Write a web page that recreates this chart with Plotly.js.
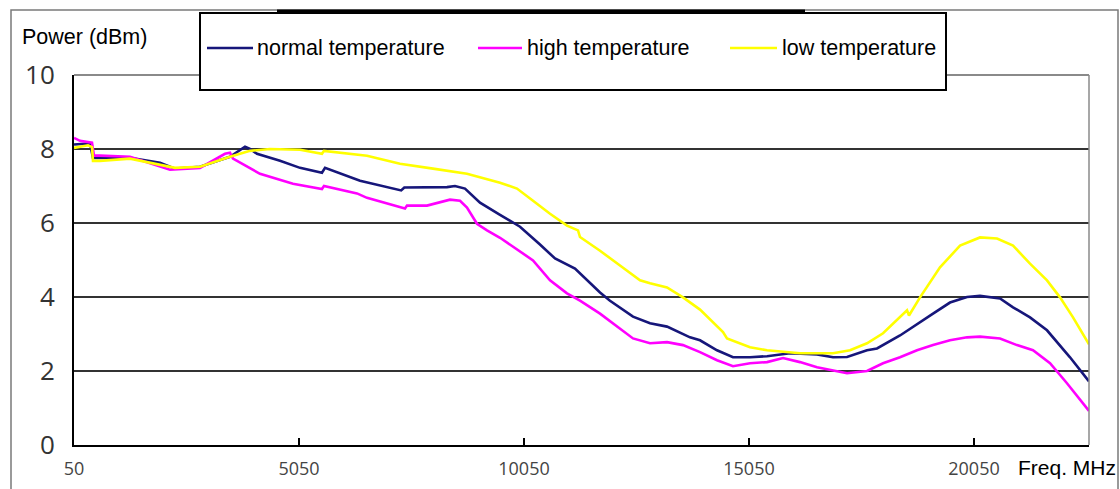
<!DOCTYPE html>
<html>
<head>
<meta charset="utf-8">
<script src="https://cdn.plot.ly/plotly-3.0.1.min.js"></script>
<style>html,body{margin:0;padding:0;background:#fff;}#chart{width:1120px;height:489px;}</style>
</head>
<body>
<div id="chart"></div>
<script>
// ---- data ----
const seriesNames = ["normal temperature", "high temperature", "low temperature"];
const xTickVals = [50, 5050, 10050, 15050, 20050];
const yTickVals = [0, 2, 4, 6, 8, 10];

const freqNormal = [50, 406, 472, 628, 1294, 1961, 2294, 2850, 3516, 3850, 3961, 4117, 4628, 5072, 5560, 5628, 6406, 7320, 7390, 8339, 8516, 8739, 9072, 9517, 9961, 10405, 10739, 11183, 11516, 11739, 11961, 12472, 12850, 13228, 13739, 13961, 14339, 14694, 15072, 15450, 15961, 16561, 16917, 17228, 17672, 17894, 18405, 18694, 19139, 19516, 19894, 20183, 20628, 20917, 21294, 21672, 22183, 22605];
const powerNormal = [8.12, 8.15, 7.76, 7.76, 7.76, 7.63, 7.47, 7.52, 7.79, 8.06, 8.0, 7.87, 7.68, 7.49, 7.36, 7.49, 7.14, 6.88, 6.96, 6.97, 7.0, 6.93, 6.55, 6.22, 5.9, 5.42, 5.04, 4.77, 4.37, 4.12, 3.9, 3.47, 3.29, 3.2, 2.91, 2.83, 2.56, 2.37, 2.37, 2.4, 2.48, 2.45, 2.37, 2.38, 2.56, 2.61, 2.96, 3.2, 3.55, 3.85, 4.0, 4.03, 3.96, 3.72, 3.45, 3.1, 2.37, 1.72];

const freqHigh = [50, 183, 450, 494, 628, 1294, 2183, 2850, 3405, 3516, 3583, 4183, 4916, 5560, 5605, 6339, 6561, 7405, 7450, 7894, 8405, 8628, 8783, 9005, 9228, 9517, 10250, 10628, 11005, 11294, 11739, 12472, 12850, 13228, 13583, 13961, 14339, 14694, 15072, 15450, 15806, 16183, 16561, 16917, 17228, 17672, 18028, 18405, 18783, 19139, 19516, 19894, 20183, 20628, 21005, 21361, 21739, 22116, 22472, 22605];
const powerHigh = [8.3, 8.22, 8.17, 7.82, 7.82, 7.79, 7.44, 7.49, 7.87, 7.9, 7.74, 7.33, 7.06, 6.92, 7.0, 6.8, 6.68, 6.39, 6.47, 6.47, 6.63, 6.6, 6.42, 5.98, 5.8, 5.6, 4.99, 4.45, 4.1, 3.9, 3.55, 2.88, 2.75, 2.78, 2.7, 2.51, 2.29, 2.13, 2.21, 2.24, 2.35, 2.24, 2.1, 2.02, 1.94, 2.0, 2.21, 2.37, 2.56, 2.7, 2.83, 2.91, 2.93, 2.88, 2.7, 2.56, 2.21, 1.67, 1.13, 0.92];

const freqLow = [50, 361, 450, 472, 628, 1294, 2294, 2850, 3516, 3961, 4405, 5072, 5560, 5605, 6561, 7294, 8027, 8783, 9517, 9894, 10250, 10628, 11005, 11250, 11294, 11739, 12183, 12628, 12850, 13228, 13583, 13961, 14472, 14561, 15072, 15450, 16183, 16917, 17295, 17672, 18028, 18405, 18561, 18605, 18850, 19294, 19739, 20183, 20561, 20917, 21294, 21672, 21961, 22250, 22605];
const powerLow = [8.03, 8.1, 8.05, 7.68, 7.68, 7.74, 7.49, 7.52, 7.79, 7.95, 8.0, 7.98, 7.87, 7.95, 7.82, 7.6, 7.47, 7.33, 7.09, 6.93, 6.6, 6.25, 5.93, 5.8, 5.62, 5.25, 4.85, 4.45, 4.37, 4.26, 3.99, 3.66, 3.05, 2.88, 2.64, 2.56, 2.48, 2.48, 2.56, 2.75, 3.02, 3.45, 3.64, 3.5, 3.99, 4.8, 5.39, 5.61, 5.58, 5.39, 4.9, 4.45, 3.99, 3.45, 2.72];

const seriesColors = ["#16167a", "#ff00ff", "#ffff00"];

// ---- chart ----
const traces = [
  {x: freqNormal, y: powerNormal, name: seriesNames[0], type: "scatter", mode: "lines", line: {color: seriesColors[0], width: 2.6}, showlegend: false},
  {x: freqHigh, y: powerHigh, name: seriesNames[1], type: "scatter", mode: "lines", line: {color: seriesColors[1], width: 2.6}, showlegend: false},
  {x: freqLow, y: powerLow, name: seriesNames[2], type: "scatter", mode: "lines", line: {color: seriesColors[2], width: 2.6}, showlegend: false}
];

const L = 74, R = 1089, T = 75, B = 445;
const px = v => (v - L) / (R - L);
const py = v => (B - v) / (B - T);

const legendSamples = [[207, 253, 255], [478, 522, 525], [730, 777, 780]];
const shapes = [
  {type: "rect", xref: "paper", yref: "paper", x0: px(11), x1: px(1118), y0: py(495), y1: py(10), line: {color: "#7a7a7a", width: 1.5}, layer: "below"},
  {type: "line", xref: "paper", yref: "paper", x0: 0, x1: 1, y0: 1, y1: 1, line: {color: "#8a8a8a", width: 2}, layer: "above"},
  {type: "line", xref: "paper", yref: "paper", x0: 1, x1: 1, y0: 0, y1: 1, line: {color: "#8a8a8a", width: 1.5}, layer: "above"},
  {type: "rect", xref: "paper", yref: "paper", x0: px(200), x1: px(946), y0: py(90), y1: py(13), fillcolor: "#ffffff", line: {color: "#000000", width: 2}, layer: "above"},
  {type: "line", xref: "paper", yref: "paper", x0: px(277), x1: px(805), y0: py(11), y1: py(11), line: {color: "#000000", width: 3}, layer: "above"}
];
legendSamples.forEach((s, i) => {
  shapes.push({type: "line", xref: "paper", yref: "paper", x0: px(s[0]), x1: px(s[1]), y0: py(48), y1: py(48), line: {color: seriesColors[i], width: 2.5}, layer: "above"});
});

const textFont = {family: "Liberation Sans, Arial, sans-serif", size: 21.5, color: "#000"};
const annotations = seriesNames.map((n, i) => ({
  text: n, xref: "paper", yref: "paper", x: px(legendSamples[i][2]), y: py(48),
  xanchor: "left", yanchor: "middle", showarrow: false, font: textFont
}));
annotations.push({text: "Power (dBm)", xref: "paper", yref: "paper", x: px(20), y: py(37), xanchor: "left", yanchor: "middle", showarrow: false, font: textFont});
annotations.push({text: "Freq. MHz", xref: "paper", yref: "paper", x: px(1016), y: py(467), xanchor: "left", yanchor: "middle", showarrow: false, font: {family: "Liberation Sans, Arial, sans-serif", size: 21, color: "#000"}});

const layout = {
  width: 1120, height: 489,
  margin: {l: L, r: 1120 - R, t: T, b: 489 - B, pad: 0},
  paper_bgcolor: "#ffffff", plot_bgcolor: "#ffffff",
  showlegend: false,
  xaxis: {
    range: [50, 22605], tickvals: xTickVals, ticktext: xTickVals.map(String),
    showgrid: false, zeroline: false, showline: true, linecolor: "#000", linewidth: 2,
    ticks: "inside", ticklen: 7, tickwidth: 1.5, tickcolor: "#000",
    tickfont: {family: "Open Sans, DejaVu Sans, sans-serif", size: 18, color: "#444"},
    ticklabelstandoff: 6
  },
  yaxis: {
    range: [0, 10], tickvals: yTickVals, ticktext: yTickVals.map(String),
    showgrid: true, gridcolor: "#333", gridwidth: 1.5, zeroline: false,
    showline: true, linecolor: "#000", linewidth: 2, ticks: "",
    tickfont: {family: "Open Sans, DejaVu Sans, sans-serif", size: 26, color: "#333"},
    ticklabelstandoff: 12
  },
  shapes: shapes,
  annotations: annotations
};

Plotly.newPlot("chart", traces, layout, {staticPlot: true, displayModeBar: false});
</script>
</body>
</html>
